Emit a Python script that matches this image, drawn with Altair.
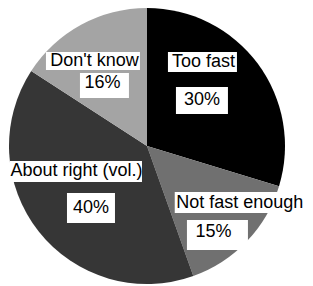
import math
import altair as alt
import pandas as pd

# ---- data ----
categories = ["Too fast", "Not fast enough", "About right (vol.)", "Don't know"]
values = [30, 15, 40, 16]
pct_labels = ["30%", "15%", "40%", "16%"]

# ---- style ----
fills = ["#000000", "#707070", "#363636", "#a4a4a4"]
W, H = 297, 278          # whole drawing area (page minus margins)
CX, CY = 139, 138        # pie centre inside the drawing area
R = 138
FONT = "Liberation Sans"
FS = 18

# label placement: anchor radius along slice mid-angle, then box offsets (dx, dy, w, h)
# and text offsets inside the box
label_style = {
    "Too fast": {"r": 71, "pct": (-2.1, -3.3, 52, 27), "pct_t": (0, 0),
                 "name": (-1.6, -41.8, 69, 20), "name_t": (1, 0)},
    "Not fast enough": {"r": 113, "pct": (-11.3, 11.0, 61, 30), "pct_t": (-4, -3),
                        "name": (11.0, -21.5, 130, 21), "name_t": (0.0, 0)},
    "About right (vol.)": {"r": 83, "pct": (9.1, 10.5, 48, 30), "pct_t": (0, 0),
                           "name": (-5.9, -26.0, 132, 21), "name_t": (0.5, 0)},
    "Don't know": {"r": 73, "pct": (-7.7, 3.6, 49, 25), "pct_t": (-2, -2),
                   "name": (-19.2, -20.9, 94, 18), "name_t": (1.5, 0)},
}

df = pd.DataFrame({"category": categories, "value": values, "order": list(range(len(values)))})

total = sum(values)
box_rows, text_rows = [], []
cum = 0
for cat, v, p in zip(categories, values, pct_labels):
    mid = (cum + v / 2) / total * 2 * math.pi
    cum += v
    st = label_style[cat]
    ax = CX + st["r"] * math.sin(mid)
    ay = CY - st["r"] * math.cos(mid)
    for txt, key in ((cat, "name"), (p, "pct")):
        dx, dy, w, h = st[key]
        tdx, tdy = st[key + "_t"]
        bx, by = ax + dx, ay + dy
        box_rows.append({"x": bx - w / 2, "x2": bx + w / 2, "y": by - h / 2, "y2": by + h / 2})
        text_rows.append({"label": txt, "tx": bx + tdx, "ty": by + tdy})

boxes = pd.DataFrame(box_rows)
texts = pd.DataFrame(text_rows)

pie = alt.Chart(df).mark_arc(outerRadius=R, stroke=None).encode(
    theta=alt.Theta("value:Q", stack=True),
    order=alt.Order("order:Q"),
    color=alt.Color("category:N", scale=alt.Scale(domain=categories, range=fills), legend=None),
    x=alt.value(CX),
    y=alt.value(CY),
)

rects = alt.Chart(boxes).mark_rect(color="white").encode(
    x=alt.X("x:Q", scale=None, axis=None),
    x2="x2:Q",
    y=alt.Y("y:Q", scale=None, axis=None),
    y2="y2:Q",
)

labels = alt.Chart(texts).mark_text(
    font=FONT, fontSize=FS, color="black", baseline="middle", align="center"
).encode(
    x=alt.X("tx:Q", scale=None, axis=None),
    y=alt.Y("ty:Q", scale=None, axis=None),
    text="label:N",
)

chart = alt.layer(pie, rects, labels).properties(
    width=W, height=H, padding=0,
    autosize=alt.AutoSizeParams(type="none"),
    background="white",
).configure_view(stroke=None)

chart.save("out.html", embed_options={"renderer": "svg", "actions": False})
